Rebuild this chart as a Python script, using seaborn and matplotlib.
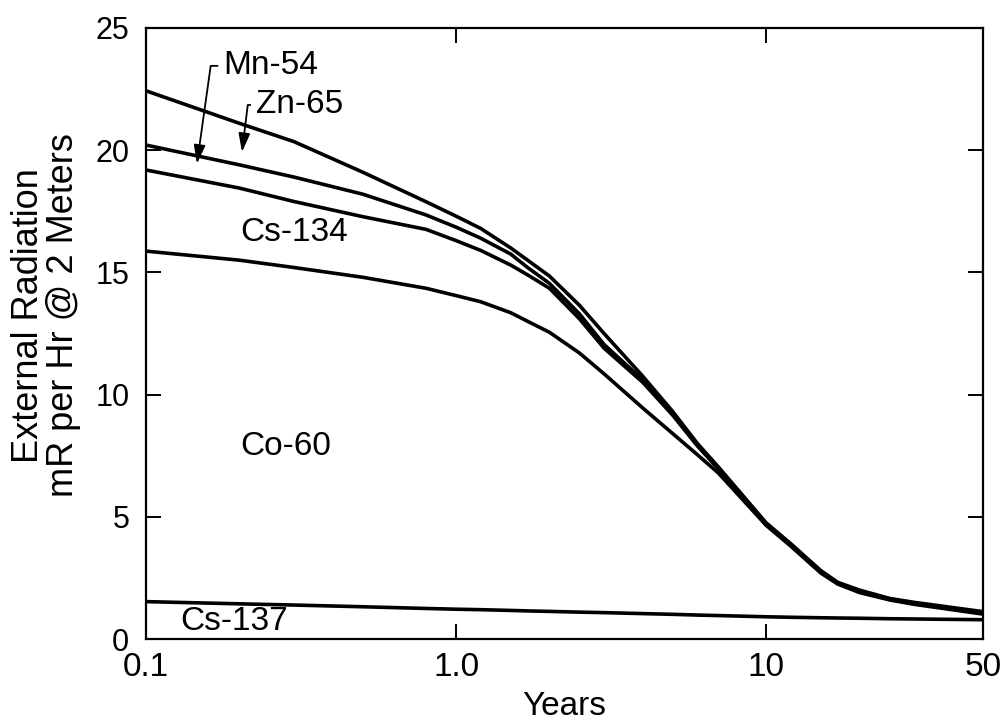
import numpy as np
import pandas as pd
import matplotlib
matplotlib.use("Agg")
import matplotlib.pyplot as plt
import seaborn as sns

# ---- data (cumulative boundary values) ----
years = [0.1, 0.2, 0.3, 0.5, 0.8, 1.0, 1.2, 1.5, 1.7, 2, 2.5, 3, 4, 5, 6, 7, 10, 12, 15, 17, 20, 25, 30, 50]
cs137_top = [1.53, 1.44, 1.39, 1.32, 1.25, 1.22, 1.20, 1.17, 1.15, 1.13, 1.10, 1.08, 1.04, 1.01, 0.98, 0.96, 0.91, 0.89, 0.87, 0.86, 0.85, 0.83, 0.82, 0.79]
co60_top = [15.87, 15.5, 15.2, 14.8, 14.35, 14.05, 13.8, 13.35, 13.0, 12.55, 11.7, 10.85, 9.45, 8.4, 7.54, 6.8, 4.65, 3.8, 2.7, 2.25, 1.9, 1.6, 1.42, 1.02]
cs134_top = [19.19, 18.45, 17.9, 17.28, 16.76, 16.3, 15.9, 15.3, 14.9, 14.35, 13.1, 11.9, 10.5, 9.15, 7.9, 6.97, 4.7, 3.85, 2.75, 2.28, 1.95, 1.62, 1.45, 1.05]
mn54_top = [20.21, 19.4, 18.9, 18.2, 17.35, 16.85, 16.4, 15.75, 15.2, 14.55, 13.3, 12.05, 10.6, 9.22, 7.95, 7.0, 4.72, 3.87, 2.77, 2.3, 1.97, 1.64, 1.47, 1.08]
zn65_top = [22.43, 21.1, 20.35, 19.1, 17.89, 17.3, 16.8, 16.0, 15.5, 14.85, 13.65, 12.5, 10.75, 9.3, 8.0, 7.05, 4.75, 3.9, 2.8, 2.32, 2.0, 1.66, 1.5, 1.12]

series_names = ["Cs-137", "Co-60", "Cs-134", "Mn-54", "Zn-65"]
series_values = [cs137_top, co60_top, cs134_top, mn54_top, zn65_top]

x_ticks = [0.1, 1.0, 10, 50]
x_tick_labels = ["0.1", "1.0", "10", "50"]
y_ticks = [0, 5, 10, 15, 20, 25]

df = pd.concat(
    [pd.DataFrame({"Years": years, "Value": vals, "Nuclide": name})
     for name, vals in zip(series_names, series_values)],
    ignore_index=True,
)

sns.set_theme(style="ticks")
plt.rcParams["font.family"] = ["Liberation Sans", "DejaVu Sans"]
plt.rcParams["text.color"] = "black"
plt.rcParams["axes.labelcolor"] = "black"

fig = plt.figure(figsize=(10.02, 7.21), dpi=100)
ax = fig.add_axes([0.1457, 0.1137, 0.8353, 0.8475])

sns.lineplot(data=df, x="Years", y="Value", hue="Nuclide",
             palette=["black"] * len(series_names), linewidth=2.6,
             legend=False, ax=ax, sort=False, estimator=None)
for ln in ax.get_lines():
    ln.set_solid_joinstyle("round")
    ln.set_solid_capstyle("round")

ax.set_xscale("log")
ax.set_xlim(0.1, 50)
ax.set_ylim(0, 25)
ax.set_xticks(x_ticks)
ax.set_xticklabels(x_tick_labels)
ax.minorticks_off()
ax.set_yticks(y_ticks)
ax.set_yticklabels([str(v) for v in y_ticks])

for s in ax.spines.values():
    s.set_linewidth(1.6)
    s.set_color("black")

ax.tick_params(axis="both", which="major", direction="in", length=11, width=1.4,
               top=True, right=True, colors="black")
ax.tick_params(axis="y", labelsize=22, pad=12)
ax.tick_params(axis="x", labelsize=24, pad=9)

ax.set_xlabel("Years", fontsize=24, labelpad=6, color="black")
ax.set_ylabel("External Radiation\nmR per Hr @ 2 Meters", fontsize=26, linespacing=1.0,
              color="black")
ax.yaxis.set_label_coords(-0.078, 0.53)

txt_kw = dict(fontsize=24, color="black", va="center", ha="left")
ax.text(0.201, 16.65, "Cs-134", **txt_kw)
ax.text(0.201, 7.86, "Co-60", **txt_kw)
ax.text(0.129, 0.72, "Cs-137", **txt_kw)

arrow_kw = dict(arrowstyle="-|>,head_length=0.8,head_width=0.25", color="black", lw=1.3,
                mutation_scale=14, shrinkA=2, shrinkB=0)
ax.annotate("Mn-54", xy=(0.146, 19.45), xytext=(0.178, 23.45),
            textcoords="data", fontsize=24, va="center", ha="left", color="black",
            arrowprops=dict(connectionstyle="angle,angleA=0,angleB=82,rad=0",
                            relpos=(0, 0.5), **arrow_kw))
ax.annotate("Zn-65", xy=(0.204, 19.93), xytext=(0.227, 21.85),
            textcoords="data", fontsize=24, va="center", ha="left", color="black",
            arrowprops=dict(connectionstyle="angle,angleA=0,angleB=83,rad=0",
                            relpos=(0, 0.5), **arrow_kw))

fig.savefig("out.png", dpi=100)
